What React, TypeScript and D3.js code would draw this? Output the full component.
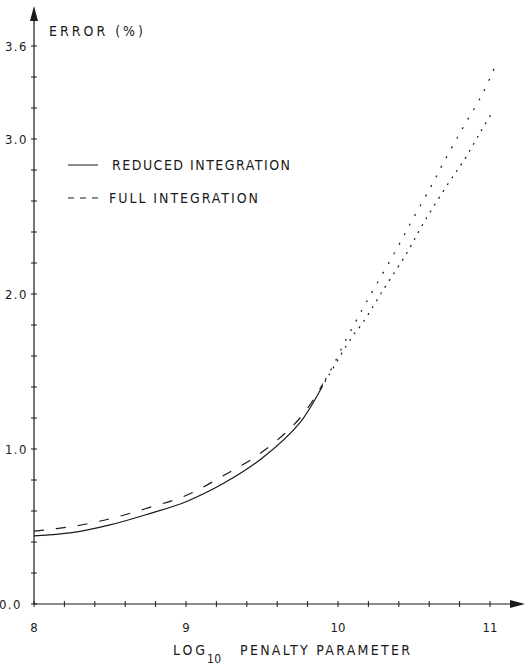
import React from 'react';
import * as d3 from 'd3';

// log10 penalty parameter vs error (%)
const reducedX = [8.0, 8.25, 8.5, 8.75, 9.0, 9.25, 9.5, 9.75, 9.93, 10.09, 10.16, 10.3, 10.45, 10.57, 10.73, 10.84, 10.94, 11.02];
const reducedY = [0.44, 0.46, 0.51, 0.58, 0.66, 0.78, 0.94, 1.17, 1.46, 1.72, 1.81, 2.03, 2.26, 2.47, 2.72, 2.88, 3.05, 3.18];

const fullX = [8.0, 8.25, 8.5, 8.75, 9.0, 9.25, 9.5, 9.75, 9.93, 10.06, 10.16, 10.24, 10.38, 10.49, 10.61, 10.69, 10.82, 10.95, 11.03];
const fullY = [0.47, 0.5, 0.55, 0.62, 0.7, 0.83, 0.98, 1.2, 1.47, 1.72, 1.9, 2.04, 2.28, 2.48, 2.69, 2.84, 3.07, 3.29, 3.46];

const xLabelValues = [8, 9, 10, 11];
const xLabelTexts = ['8', '9', '10', '11'];
const yLabelValues = [0, 1, 2, 3, 3.6];
const yLabelTexts = ['0.0', '1.0', '2.0', '3.0', '3.6'];

const SPLIT = 9.9; // above this the printed curves are only faint dots

const font = '"Liberation Sans Narrow", "DejaVu Sans Condensed", "Liberation Sans", sans-serif';
const ink = '#1a1a1a';

const x = d3.scaleLinear().domain([8, 11]).range([34, 490]);
const y = d3.scaleLinear().domain([0, 3.6]).range([604, 46]);

const line = d3.line<[number, number]>()
    .x(d => x(d[0]))
    .y(d => y(d[1]))
    .curve(d3.curveCatmullRom.alpha(0.5));

const pairs = (xs: number[], ys: number[]) => xs.map((v, i) => [v, ys[i]] as [number, number]);

export default function App() {
    const reduced = line(pairs(reducedX, reducedY)) || '';
    const full = line(pairs(fullX, fullY)) || '';
    const xTicks = d3.range(8, 11.001, 0.2);
    const yTicks = d3.range(0, 3.601, 0.2);
    const x0 = x(8), y0 = y(0);
    const xs = x(SPLIT);

    return (
        <svg width={525} height={669} style={{ position: 'absolute', left: 0, top: 0, background: '#fff' }}
            fontFamily={font} fill={ink}>
            <defs>
                <clipPath id="lowPart"><rect x={0} y={0} width={xs} height={669} /></clipPath>
                <clipPath id="highPart"><rect x={xs} y={0} width={525 - xs} height={669} /></clipPath>
            </defs>

            {/* axes */}
            <line x1={x0} y1={y0} x2={x0} y2={20} stroke={ink} strokeWidth={1.2} />
            <polygon points={`${x0},6 ${x0 - 4},21 ${x0 + 4},21`} fill={ink} />
            <line x1={x0} y1={y0} x2={512} y2={y0} stroke={ink} strokeWidth={1.2} />
            <polygon points={`525,${y0} 510,${y0 - 4} 510,${y0 + 4}`} fill={ink} />

            {yTicks.map((t, i) => (
                <line key={'yt' + i} x1={x0 - 3} x2={x0 + 3} y1={y(t)} y2={y(t)} stroke={ink} strokeWidth={1} />
            ))}
            {xTicks.map((t, i) => (
                <line key={'xt' + i} x1={x(t)} x2={x(t)} y1={y0 - 3} y2={y0 + 3} stroke={ink} strokeWidth={1} />
            ))}

            {yLabelValues.map((v, i) => (
                <text key={'yl' + i} x={v === 0 ? 22 : 28} y={y(v)} dy="0.36em" textAnchor="end" fontSize={13}
                    letterSpacing={1.5}>
                    {yLabelTexts[i]}
                </text>
            ))}
            {xLabelValues.map((v, i) => (
                <text key={'xl' + i} x={x(v)} y={632} textAnchor="middle" fontSize={13}>
                    {xLabelTexts[i]}
                </text>
            ))}

            {/* titles */}
            <text x={49} y={36} fontSize={14} textLength={94} lengthAdjust="spacing">ERROR (%)</text>
            <text x={173} y={655} fontSize={14} textLength={32} lengthAdjust="spacing">LOG</text>
            <text x={207} y={663} fontSize={12} textLength={14} lengthAdjust="spacing">10</text>
            <text x={240} y={655} fontSize={14} textLength={170} lengthAdjust="spacing">PENALTY PARAMETER</text>

            {/* legend */}
            <line x1={68} x2={98} y1={165} y2={165} stroke={ink} strokeWidth={1} />
            <text x={112} y={170} fontSize={14} textLength={178} lengthAdjust="spacing">REDUCED INTEGRATION</text>
            <line x1={68} x2={98} y1={198} y2={198} stroke={ink} strokeWidth={1} strokeDasharray="6 6" />
            <text x={109} y={203} fontSize={14} textLength={149} lengthAdjust="spacing">FULL INTEGRATION</text>

            {/* curves: drawn whole, styled in two parts */}
            <g clipPath="url(#lowPart)" fill="none" stroke={ink} strokeWidth={1.2}>
                <path d={reduced} />
                <path d={full} strokeDasharray="10 12" />
            </g>
            <g clipPath="url(#highPart)" fill="none" stroke={ink} strokeWidth={1.2}>
                <path d={reduced} strokeDasharray="2 6" />
                <path d={full} strokeDasharray="2 9" />
            </g>
        </svg>
    );
}
